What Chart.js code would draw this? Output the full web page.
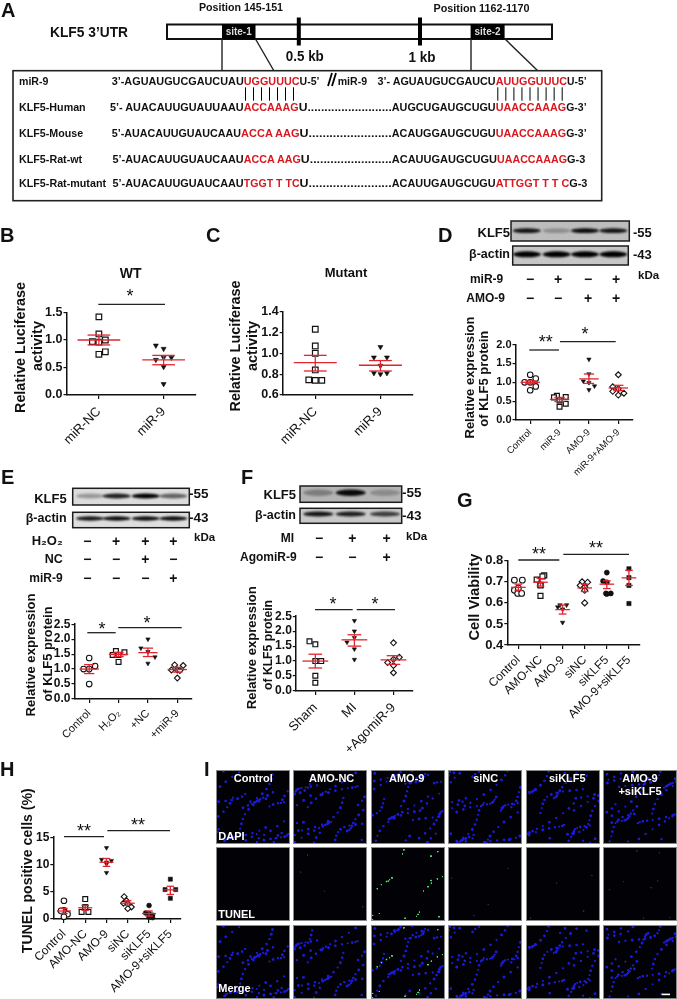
<!DOCTYPE html>
<html>
<head>
<meta charset="utf-8">
<script src="https://cdn.jsdelivr.net/npm/chart.js@4"></script>
<style>
html,body{margin:0;padding:0;background:#fff;width:677px;height:999px;overflow:hidden;font-family:"Liberation Sans",Arial,sans-serif}
canvas{position:absolute}
svg{position:absolute;left:0;top:0}
svg text{white-space:pre;font-family:"Liberation Sans",Arial,sans-serif}
.cell{position:absolute;box-sizing:border-box;border:1px solid #8a8a8a;background-color:#010106;overflow:hidden}
</style>
</head>
<body>
<div id="micro"></div>
<div id="charts"></div>
<svg id="ov" width="677" height="999" xmlns="http://www.w3.org/2000/svg">
<defs><filter id="b1" x="-30%" y="-100%" width="160%" height="300%"><feGaussianBlur stdDeviation="1.1"/></filter></defs>
</svg>
<script>
// ---------- Panel B ----------
const categoriesB=['miR-NC','miR-9'];
const bMiRNC=[1.42,1.11,0.97,0.96,1.0,0.785,0.74];
const bMiR9=[0.90,0.84,0.64,0.68,0.68,0.51,0.20];
const bMeans=[1.0,0.64];
const bLow=[0.91,0.55];
const bHigh=[1.09,0.72];
const bSpread=[[0,0,-0.1,0,0.1,0.1,0],[-0.12,0,-0.12,0,0.12,0,0]];
// ---------- Panel C ----------
const categoriesC=['miR-NC','miR-9'];
const cMiRNC=[1.23,1.07,1.0,0.84,0.745,0.74,0.74];
const cMiR9=[1.06,0.96,0.96,0.88,0.81,0.80,0.81];
const cMeans=[0.91,0.885];
const cLow=[0.83,0.83];
const cHigh=[0.98,0.93];
const cSpread=[[0,0,0,0,-0.1,0,0.1],[0,-0.1,0.1,0,-0.1,0,0.1]];
// ---------- Panel D ----------
const categoriesD=['Control','miR-9','AMO-9','miR-9+AMO-9'];
const dControl=[1.2,1.1,1.0,1.0,0.89,0.79];
const dMiR9=[0.64,0.6,0.61,0.52,0.43,0.35];
const dAMO9=[1.61,1.22,1.03,0.99,0.9,0.8];
const dBoth=[1.2,0.88,0.83,0.76,0.66,0.71];
const dMeans=[1.0,0.55,1.09,0.85];
const dLow=[0.96,0.49,0.97,0.78];
const dHigh=[1.04,0.6,1.22,0.92];
const dSpread=[[0,0.19,-0.19,0,0.19,0],[-0.09,-0.19,0.21,0,0.21,0],[0,0,-0.19,0,0.19,0],[0,-0.19,0,-0.19,0,0.19]];
// ---------- Panel E ----------
const categoriesE=['Control','H\u2082O\u2082','+NC','+miR-9'];
const eControl=[1.37,1.10,1.0,1.0,0.5];
const eH2O2=[1.6,1.56,1.47,1.47,1.24];
const eNC=[2.0,1.7,1.58,1.4,1.19];
const eMiR9=[1.14,1.12,0.97,0.97,0.95,0.7];
const eMeans=[1.0,1.49,1.55,0.985];
const eLow=[0.85,1.42,1.42,0.9];
const eHigh=[1.15,1.56,1.7,1.06];
const eSpread=[[0,0.2,-0.19,0,0],[-0.09,0.2,-0.2,0,0],[0,-0.24,0,0.24,0],[-0.09,0.2,-0.2,0,0.09,0]];
// ---------- Panel F ----------
const categoriesF=['Sham','MI','+AgomiR-9'];
const fSham=[1.66,1.56,1.0,1.0,0.51,0.275];
const fMI=[2.35,2.0,1.78,1.63,1.4,1.05];
const fAgomiR9=[1.61,1.13,1.06,0.95,0.85,0.61];
const fMeans=[1.0,1.71,1.04];
const fLow=[0.77,1.5,0.89];
const fHigh=[1.23,1.88,1.18];
const fSpread=[[-0.15,0,0,0.15,0,0],[0,0,0,-0.19,0,0],[0,0.15,0,-0.15,0,0]];
// ---------- Panel G ----------
const categoriesG=['Control','AMO-NC','AMO-9','siNC','siKLF5','AMO-9+siKLF5'];
const gControl=[0.708,0.708,0.66,0.645,0.645,0.67];
const gAMONC=[0.731,0.726,0.711,0.686,0.683,0.633];
const gAMO9=[0.59,0.59,0.58,0.57,0.507];
const gSiNC=[0.70,0.698,0.683,0.675,0.66,0.60];
const gSiKLF5=[0.744,0.704,0.698,0.645,0.645,0.642];
const gAMO9SiKLF5=[0.762,0.72,0.683,0.597];
const gMeans=[0.674,0.698,0.568,0.671,0.689,0.719];
const gLow=[0.66,0.68,0.547,0.654,0.668,0.683];
const gHigh=[0.689,0.716,0.59,0.689,0.705,0.755];
const gSpread=[[-0.18,0.18,-0.18,-0.03,0.15,0],[0.17,0.09,-0.17,0,0,0],[-0.12,0.18,-0.22,0,0],[-0.12,0.13,-0.2,0,0,0],[0,-0.17,0,-0.04,0.18,0],[0,0,0,0]];
// ---------- Panel H ----------
const categoriesH=['Control','AMO-NC','AMO-9','siNC','siKLF5','AMO-9+siKLF5'];
const hControl=[3.35,1.6,1.3,0.88,0.41,1.5];
const hAMONC=[3.65,2.2,2.0,1.3,1.3];
const hAMO9=[13.05,10.9,10.7,10.4,10.1,8.5];
const hSiNC=[4.1,3.35,2.9,2.8,2.2,1.9];
const hSiKLF5=[2.47,1.1,1.0,0.7,0.3,0.25];
const hAMO9SiKLF5=[7.3,5.4,5.4,3.8];
const hMeans=[1.47,2.06,10.4,2.9,1.0,5.35];
const hLow=[1.0,1.6,9.65,2.5,0.53,4.5];
const hHigh=[1.94,2.5,11.1,3.35,1.47,6.0];
const hSpread=[[0,0,0,0.17,0,-0.14],[0,0,0,-0.17,0.15],[0,-0.23,0.23,0,0,0],[-0.17,-0.06,-0.2,0,0.17,0],[0,-0.16,0,0.16,0,0.16],[0,-0.25,0.25,0]];

const INK='#111';
const RED='#e1252f';
const MARK={
  sq:{pointStyle:'rect',fill:'#fff',stroke:INK,k:1.1,bw:1.2},
  ci:{pointStyle:'circle',fill:'#fff',stroke:INK,k:0.9,bw:1.1},
  tr:{pointStyle:'triangle',fill:INK,stroke:INK,k:0.8,rot:180,bw:0.6},
  di:{pointStyle:'rectRot',fill:'#fff',stroke:INK,k:0.95,bw:1.1},
  fc:{pointStyle:'circle',fill:INK,stroke:INK,k:0.8,bw:0.5},
  fs:{pointStyle:'rect',fill:INK,stroke:INK,k:0.95,bw:0.5}
};

function addChart(o){
  const ML=o.l, MT=Math.max(o.t-5,0), canvasTop=o.t-MT;
  const w=Math.min(677,o.r+20), bottomSpace=o.bottomSpace||100;
  const c=document.createElement('canvas');
  c.width=w; c.height=canvasTop+(o.b-o.t)+bottomSpace;
  c.style.left='0px'; c.style.top=MT+'px';
  document.getElementById('charts').appendChild(c);
  const n=o.cats.length, ds=[];
  o.groups.forEach((vals,i)=>{
    const m=MARK[o.marks[i]];
    ds.push({data:vals.map((y,j)=>({x:i+o.spread[i][j],y})),showLine:false,order:2,clip:false,
      pointStyle:m.pointStyle,pointRotation:m.rot||0,pointRadius:o.radius*m.k,pointHoverRadius:o.radius*m.k,
      pointBackgroundColor:m.fill,pointBorderColor:m.stroke,pointBorderWidth:m.bw});
    const stroke=(pts)=>ds.push({data:pts,showLine:true,order:1,clip:false,borderColor:RED,borderWidth:1.3,pointRadius:0,pointHoverRadius:0});
    const a=o.means[i],lo=o.low[i],hi=o.high[i];
    stroke([{x:i-0.33,y:a},{x:i+0.33,y:a}]);
    stroke([{x:i,y:lo},{x:i,y:hi}]);
    stroke([{x:i-0.175,y:lo},{x:i+0.175,y:lo}]);
    stroke([{x:i-0.175,y:hi},{x:i+0.175,y:hi}]);
  });
  new Chart(c,{
    type:'scatter',
    data:{datasets:ds},
    options:{
      responsive:false,animation:false,devicePixelRatio:1,
      layout:{autoPadding:false,padding:{left:0,top:canvasTop,right:w-o.r,bottom:0}},
      plugins:{legend:{display:false},tooltip:{enabled:false}},
      events:[],
      scales:{
        x:{type:'linear',min:-0.5,max:n-0.5,
          afterBuildTicks:s=>{s.ticks=o.cats.map((_,i)=>({value:i}))},
          afterFit:s=>{s.height=bottomSpace},
          grid:{drawOnChartArea:false,drawTicks:true,tickLength:4,color:INK,lineWidth:1.2},
          border:{color:INK,width:1.5},
          ticks:{autoSkip:false,minRotation:45,maxRotation:45,padding:o.xPad,color:INK,
            font:{family:'"Liberation Sans",Arial',size:o.xSize,weight:'normal'},
            callback:v=>o.cats[v]}},
        y:{type:'linear',min:o.yMin,max:o.yMax,
          afterFit:s=>{s.width=ML},
          grid:{drawOnChartArea:false,drawTicks:true,tickLength:3,color:INK,lineWidth:1.2},
          border:{color:INK,width:1.5},
          ticks:{stepSize:o.yStep,autoSkip:false,padding:1,color:INK,
            font:{family:'"Liberation Sans",Arial',size:o.ySize,weight:'bold'},
            callback:v=>o.yDec?Number(v).toFixed(o.yDec):String(v)}}
      }
    }
  });
}

addChart({l:66.5,r:196.5,t:309.3,b:396,cats:categoriesB,yMin:0,yMax:1.5,yStep:0.5,yDec:1,ySize:12.5,xSize:13,xPad:5,radius:3.6,
  groups:[bMiRNC,bMiR9],marks:['sq','tr'],means:bMeans,low:bLow,high:bHigh,spread:bSpread});
addChart({l:282.7,r:413,t:308,b:395,cats:categoriesC,yMin:0.6,yMax:1.4,yStep:0.2,yDec:1,ySize:12.5,xSize:13,xPad:5,radius:3.6,
  groups:[cMiRNC,cMiR9],marks:['sq','tr'],means:cMeans,low:cLow,high:cHigh,spread:cSpread});
addChart({l:515.5,r:633.5,t:342,b:420.3,cats:categoriesD,yMin:0,yMax:2,yStep:0.5,yDec:1,ySize:11,xSize:9.5,xPad:3,radius:3.1,
  groups:[dControl,dMiR9,dAMO9,dBoth],marks:['ci','sq','tr','di'],means:dMeans,low:dLow,high:dHigh,spread:dSpread});
addChart({l:74.5,r:192,t:621,b:699.7,cats:categoriesE,yMin:0,yMax:2.5,yStep:0.5,yDec:1,ySize:12,xSize:11,xPad:4,radius:3.1,
  groups:[eControl,eH2O2,eNC,eMiR9],marks:['ci','sq','tr','di'],means:eMeans,low:eLow,high:eHigh,spread:eSpread});
addChart({l:295.8,r:413.8,t:613.3,b:692,cats:categoriesF,yMin:0,yMax:2.5,yStep:0.5,yDec:1,ySize:12,xSize:13,xPad:5,radius:3.1,
  groups:[fSham,fMI,fAgomiR9],marks:['sq','tr','di'],means:fMeans,low:fLow,high:fHigh,spread:fSpread});
addChart({l:507.3,r:640.5,t:557.3,b:646,cats:categoriesG,yMin:0.4,yMax:0.8,yStep:0.1,yDec:1,ySize:13,xSize:12,xPad:4,radius:3.2,bottomSpace:95,
  groups:[gControl,gAMONC,gAMO9,gSiNC,gSiKLF5,gAMO9SiKLF5],marks:['ci','sq','tr','di','fc','fs'],means:gMeans,low:gLow,high:gHigh,spread:gSpread});
addChart({l:53.3,r:181.5,t:834,b:919,cats:categoriesH,yMin:0,yMax:15,yStep:5,yDec:0,ySize:12,xSize:12,xPad:4,radius:3.1,bottomSpace:80,
  groups:[hControl,hAMONC,hAMO9,hSiNC,hSiKLF5,hAMO9SiKLF5],marks:['ci','sq','tr','di','fc','fs'],means:hMeans,low:hLow,high:hHigh,spread:hSpread});

// ---------- overlay drawing ----------
const ov=document.getElementById('ov'),NS='http://www.w3.org/2000/svg';
function el(n,a,t){const e=document.createElementNS(NS,n);for(const k in a)e.setAttribute(k,a[k]);if(t!=null)e.textContent=t;ov.appendChild(e);return e}
function T(x,y,s,o={}){const a={x,y,'font-size':o.size||12,'font-weight':o.w||'bold','text-anchor':o.a||'start','dominant-baseline':'central',fill:o.fill||INK};
  if(o.len){a.textLength=o.len;a.lengthAdjust='spacingAndGlyphs'}
  if(o.rot)a.transform='rotate('+o.rot+' '+x+' '+y+')';
  return el('text',a,s)}
function L(x1,y1,x2,y2,w=1.4,c='#222'){el('line',{x1,y1,x2,y2,stroke:c,'stroke-width':w})}
function R(x,y,w,h,o={}){el('rect',{x,y,width:w,height:h,fill:o.fill||'none',stroke:o.stroke||'none','stroke-width':o.sw||1})}

// panel letters
[['A',1,10],['B',0,235],['C',206,235],['D',438,235],['E',1,477],['F',241,477],['G',457,500],['H',0,769],['I',204,769]]
 .forEach(p=>T(p[1],p[2],p[0],{size:20}));

// panel A
T(241,6.5,'Position 145-151',{size:11,a:'middle',len:84});
T(481.5,7.5,'Position 1162-1170',{size:11,a:'middle',len:96});
T(50,32,'KLF5 3\u2019UTR',{size:14,len:78});
R(167,24.5,385,14.5,{fill:'#fff',stroke:'#111',sw:2});
R(222,24,33.5,15.5,{fill:'#000'});R(470.6,24,34,15.5,{fill:'#000'});
T(238.7,31.8,'site-1',{size:10,a:'middle',fill:'#ddd'});T(487.6,31.8,'site-2',{size:10,a:'middle',fill:'#ddd'});
R(296.8,17.5,4,28,{fill:'#000'});R(418,17.5,4,28,{fill:'#000'});
T(304.8,56,'0.5 kb',{size:14,a:'middle',len:38});T(422,56.5,'1 kb',{size:14,a:'middle',len:27});
L(222,39,222,71);L(255.5,39,274,71);L(471,39,471,71);L(505,39,538,71);
R(13,70.7,588.7,130,{fill:'#fff',stroke:'#222',sw:1.6});
const rowY=[81.7,107.3,133.3,159,183.3];
[['miR-9',112],['KLF5-Human',198],['KLF5-Mouse',192],['KLF5-Rat-wt',190],['KLF5-Rat-mutant',245]]
 .forEach((r,i)=>T(19,rowY[i],r[0],{size:10,len:(r[1]-44)/2.31}));
const seqRed='#d8181f';
const seqs=[
 [[258,563,'3\u2019-AGUAUGUCGAUCUAU'],[563,692,'UGGUUUC',1],[692,738,'U-5\u2019'],[780,848,'miR-9'],[872,1145,'3\u2019- AGUAUGUCGAUCU'],[1145,1310,'AUUGGUUUC',1],[1310,1355,'U-5\u2019']],
 [[254,563,'5\u2019- AUACAUUGUAUUAAU'],[563,690,'ACCAAAG',1],[690,905,'U.........................'],[905,1145,'AUGCUGAUGCUGU'],[1145,1308,'UAACCAAAG',1],[1308,1355,'G-3\u2019']],
 [[258,557,'5\u2019-AUACAUUGUAUCAAU'],[557,692,'ACCA AAG',1],[692,905,'U........................'],[905,1145,'ACAUGGAUGCUGU'],[1145,1308,'UAACCAAAG',1],[1308,1355,'G-3\u2019']],
 [[260,563,'5\u2019-AUACAUUGUAUCAAU'],[563,695,'ACCA AAG',1],[695,905,'U........................'],[905,1148,'ACAUUGAUGCUGU'],[1148,1310,'UAACCAAAG',1],[1310,1352,'G-3']],
 [[260,563,'5\u2019-AUACAUUGUAUCAAU'],[563,692,'TGGT T TC',1],[692,905,'U........................'],[905,1145,'ACAUUGAUGCUGU'],[1145,1315,'ATTGGT T T C',1],[1315,1357,'G-3']]
];
seqs.forEach((row,i)=>row.forEach(s=>T(s[0]/2.31,rowY[i],s[2],{size:10,len:(s[1]-s[0])/2.31,fill:s[3]?seqRed:INK})));
L(328,86,332,73,1.8,'#000');L(332,86,336,73,1.8,'#000');
for(let i=0;i<7;i++)L(245.5+i*8,87.3,245.5+i*8,100.7,1,'#000');
for(let i=0;i<9;i++)L(497.8+i*8.05,87.3,497.8+i*8.05,100.7,1,'#000');

// y titles
function yTitle(x,y,s,len,size){T(x,y,s,{size:size||15,a:'middle',rot:-90,len})}
yTitle(19,347.5,'Relative Luciferase',131);yTitle(36.7,346,'activity',50);
yTitle(234,346,'Relative Luciferase',131);yTitle(251.7,346,'activity',50);
yTitle(469,377.5,'Relative expression',122,13.5);yTitle(484,378.7,'of KLF5 protein',96,13.5);
yTitle(30.7,655,'Relative expression',123,13.5);yTitle(47.3,654,'of KLF5 protein',95,13.5);
yTitle(251.7,647.7,'Relative expression',123,13.5);yTitle(267,645,'of KLF5 protein',90,13.5);
yTitle(474,597,'Cell Viability',87,14.5);
yTitle(26.7,870.7,'TUNEL positive cells (%)',165,14);
T(130.7,273,'WT',{size:14,a:'middle'});T(346,272,'Mutant',{size:13,a:'middle'});

// significance bars
function sig(x1,x2,y,s,sx,sy){L(x1,y,x2,y,1.3,'#222');T(sx,sy+1.5,s,{size:18,a:'middle',w:'normal'})}
sig(98.3,165,304.3,'*',130,294.5);
sig(529.3,559,350,'**',545.7,340.5);sig(560,615.7,341.7,'*',585,332);
sig(87.3,115.7,632.7,'*',102,627);sig(118.3,181.7,627.7,'*',147,621);
sig(315,352.7,609.7,'*',333,602);sig(356.7,395,609.7,'*',375,602);
sig(518.3,559.3,560,'**',539,552.5);sig(563.3,629,554.3,'**',596,546.5);
sig(64,104,836.7,'**',84,829);sig(107.3,170,830.7,'**',138,823);

// blots
function blot(x,y,w,h,bg,bands,by,bh){
  R(x,y,w,h,{fill:bg});
  bands.forEach(b=>el('ellipse',{cx:b[0],cy:by,rx:b[2]||14,ry:bh,fill:'#050505',opacity:b[1],filter:'url(#b1)'}));
  R(x,y,w,h,{stroke:'#1c1c1c',sw:1.5});
}
blot(511,221,118.3,20,'#bdbdbd',[[526.7,.9],[556.7,.25],[585,.95],[613.3,.9]],230.7,2.4);
blot(512.7,246,115.6,19,'#c6c6c6',[[527,1],[556.7,1],[585,1],[613.3,1]],254.3,3);
blot(72.7,488.3,116.6,16.7,'#dcdcdc',[[90,.3],[116.7,.85],[145.7,1],[173.3,.55]],496,2.6);
blot(72.7,512.3,116.6,15.4,'#dedede',[[90,.9],[116.7,.95],[145.7,.95],[173.3,.95]],518.5,2.2);
blot(300,486,101.7,16.3,'#b4b4b4',[[318.3,.3,15],[350.7,.95,15],[385,.22,15]],492.7,3.2);
blot(300,508.3,101.7,15,'#c8c8c8',[[318.3,.9,15],[350.7,.85,15],[385,.7,15]],514,2.6);

const pm=(xs,y,vals)=>xs.forEach((x,i)=>T(x,y,vals[i],{size:14,a:'middle'}));
T(510,232,'KLF5',{size:13,a:'end'});T(510,254,'\u03b2-actin',{size:12.5,a:'end'});
T(633,232,'-55',{size:13});T(633,254,'-43',{size:13});T(638,275,'kDa',{size:11.5});
T(503.3,279,'miR-9',{size:12,a:'end'});T(505,298,'AMO-9',{size:12,a:'end'});
const dCols=[530,558,588,616];
pm(dCols,279,['\u2212','+','\u2212','+']);pm(dCols,298,['\u2212','\u2212','+','+']);

T(66.7,498,'KLF5',{size:13,a:'end'});T(66.7,517.7,'\u03b2-actin',{size:12.5,a:'end'});
T(189,493.3,'-55',{size:13.5});T(189,517,'-43',{size:13.5});T(194,536.7,'kDa',{size:11.5});
T(62.7,540.7,'H\u2082O\u2082',{size:13,a:'end'});T(62.7,558.7,'NC',{size:12.5,a:'end'});T(62.7,577.7,'miR-9',{size:12,a:'end'});
const eCols=[87.3,116,145.3,173.3];
pm(eCols,540.7,['\u2212','+','+','+']);pm(eCols,558.7,['\u2212','\u2212','+','\u2212']);pm(eCols,577.7,['\u2212','\u2212','\u2212','+']);

T(296,494.3,'KLF5',{size:13,a:'end'});T(296,515,'\u03b2-actin',{size:12.5,a:'end'});
T(402,492.3,'-55',{size:13.5});T(402,515,'-43',{size:13.5});T(406,536,'kDa',{size:11.5});
T(294,538.3,'MI',{size:12,a:'end'});T(296.7,557.3,'AgomiR-9',{size:12,a:'end'});
const fCols=[319,352.3,386.7];
pm(fCols,538.3,['\u2212','+','+']);pm(fCols,557.3,['\u2212','\u2212','+']);

// panel I: purely decorative fluorescence-photo texture (not chart data); labels are text
const micro=document.getElementById('micro');
const colX=[216,293.3,370.7,448,525.7,602.7],rowTop=[770.3,847.3,924.7],cellW=74,cellH=74;
function frac(v){return v-Math.floor(v)}
function texture(seed,count,size,colour,rad){
  const out=[];
  for(let k=1;k<=count;k++){
    const px=frac(k*0.6180339+seed*0.37+0.09*Math.cos(k*2.3+seed))*size;
    const py=frac(k*0.7548776+seed*0.19+0.09*Math.sin(k*3.1+seed*2))*size;
    const r=rad*(0.75+0.4*frac(k*0.4142));
    out.push(`radial-gradient(circle ${r.toFixed(2)}px at ${px.toFixed(1)}px ${py.toFixed(1)}px, ${colour} 0, ${colour} 50%, transparent 100%)`);
  }
  return out;
}
colX.forEach((x,c)=>rowTop.forEach((y,r)=>{
  const d=document.createElement('div');d.className='cell';
  d.style.cssText+=`left:${x}px;top:${y}px;width:${cellW}px;height:${cellH}px`;
  let layers=[];
  if(c===2&&r!==0)layers=layers.concat(texture(5.5,r===1?24:18,72,'#46e070',1.1));
  if(r===1&&c!==0&&c!==2)layers=layers.concat(texture(c*1.7,c===5?8:4,72,'#123f20',1));
  if(r!==1)layers=layers.concat(texture(c+1,85,72,'#1a1ad8',1.7));
  if(layers.length)d.style.backgroundImage=layers.join(',');
  micro.appendChild(d);
}));
const W='#fff',iNames=['Control','AMO-NC','AMO-9','siNC','siKLF5','AMO-9'];
const iX=[253.3,331.7,406.7,485.7,567.3,640];
iNames.forEach((s,i)=>T(iX[i],777.7,s,{size:11,a:'middle',fill:W}));
T(640,791,'+siKLF5',{size:11,a:'middle',fill:W});
T(218.3,836,'DAPI',{size:11,fill:W});T(218.3,914,'TUNEL',{size:11,fill:W});T(218.3,988,'Merge',{size:11,fill:W});
R(661.7,993.6,8.3,1.6,{fill:W});
</script>
</body>
</html>
